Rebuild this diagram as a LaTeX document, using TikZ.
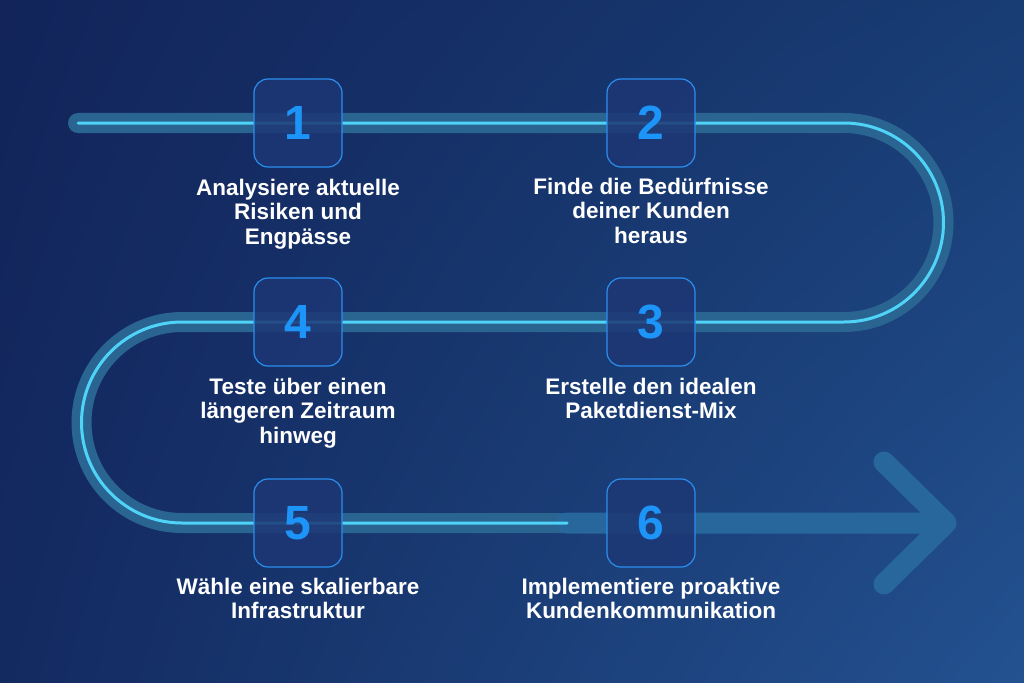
\documentclass[tikz,border=0pt]{standalone}
\usepackage{fontspec}
\setmainfont{Liberation Sans}
\usetikzlibrary{positioning,shadings}

\definecolor{bgUL}{HTML}{12245A}
\definecolor{bgUR}{HTML}{183C74}
\definecolor{bgLL}{HTML}{132A60}
\definecolor{bgLR}{HTML}{235290}
\definecolor{bandblue}{HTML}{2A6592}
\definecolor{arrowblue}{HTML}{28679C}
\definecolor{glowline}{HTML}{4FD3F7}
\definecolor{boxfill}{HTML}{1D3775}
\definecolor{boxline}{HTML}{2A8FEF}
\definecolor{numblue}{HTML}{1C94F8}

\begin{document}
\begin{tikzpicture}[x=1pt, y=-1pt,
    stepbox/.style={draw=boxline, fill=boxfill, fill opacity=0.85, text opacity=1,
      line width=1.2pt, rounded corners=14pt, minimum size=88pt, inner sep=0pt,
      font=\fontsize{48}{48}\selectfont\bfseries, text=numblue},
    steptext/.style={align=center, text=white, inner sep=0pt,
      font=\fontsize{22.5}{24.5}\selectfont\bfseries},
    band/.style={draw=bandblue, line width=20pt, line cap=round},
    glow/.style={draw=glowline, line width=3pt, line cap=round}]
  \useasboundingbox (0,0) rectangle (1024,682);
  \shade[upper left=bgUL, upper right=bgUR, lower left=bgLL, lower right=bgLR]
    (0,0) rectangle (1024,682);

  % the winding road
  \coordinate (start) at (78,123);
  \coordinate (turnR) at (844,123);
  \coordinate (turnL) at (182,322);
  \coordinate (lineend) at (567,523);
  \coordinate (tip) at (946,523);
  \coordinate (headup) at (884,462);
  \coordinate (headdown) at (884,584);

  \draw[band] (start) -- (turnR) arc[start angle=-90, end angle=90, radius=99.5]
    -- (turnL) arc[start angle=270, end angle=90, radius=100.5] -- (lineend);
  \draw[draw=arrowblue, line width=21pt, line cap=round, line join=round]
    (lineend) -- (tip) (headup) -- (tip) -- (headdown);
  \draw[glow] (start) -- (turnR) arc[start angle=-90, end angle=90, radius=99.5]
    -- (turnL) arc[start angle=270, end angle=90, radius=100.5] -- (lineend);

  % steps
  \node[stepbox] (b1) at (298,123) {1};
  \node[stepbox] (b2) at (651,123) {2};
  \node[stepbox] (b3) at (651,322) {3};
  \node[stepbox] (b4) at (298,322) {4};
  \node[stepbox] (b5) at (298,523) {5};
  \node[stepbox] (b6) at (651,523) {6};

  \node[steptext, below=11pt of b1] (t1) {Analysiere aktuelle\\Risiken und\\Engpässe};
  \node[steptext, below=10pt of b2] (t2) {Finde die Bedürfnisse\\deiner Kunden\\heraus};
  \node[steptext, below=11pt of b3] (t3) {Erstelle den idealen\\Paketdienst-Mix};
  \node[steptext, below=11pt of b4] (t4) {Teste über einen\\längeren Zeitraum\\hinweg};
  \node[steptext, below=10pt of b5] (t5) {Wähle eine skalierbare\\Infrastruktur};
  \node[steptext, below=10pt of b6] (t6) {Implementiere proaktive\\Kundenkommunikation};
\end{tikzpicture}
\end{document}
